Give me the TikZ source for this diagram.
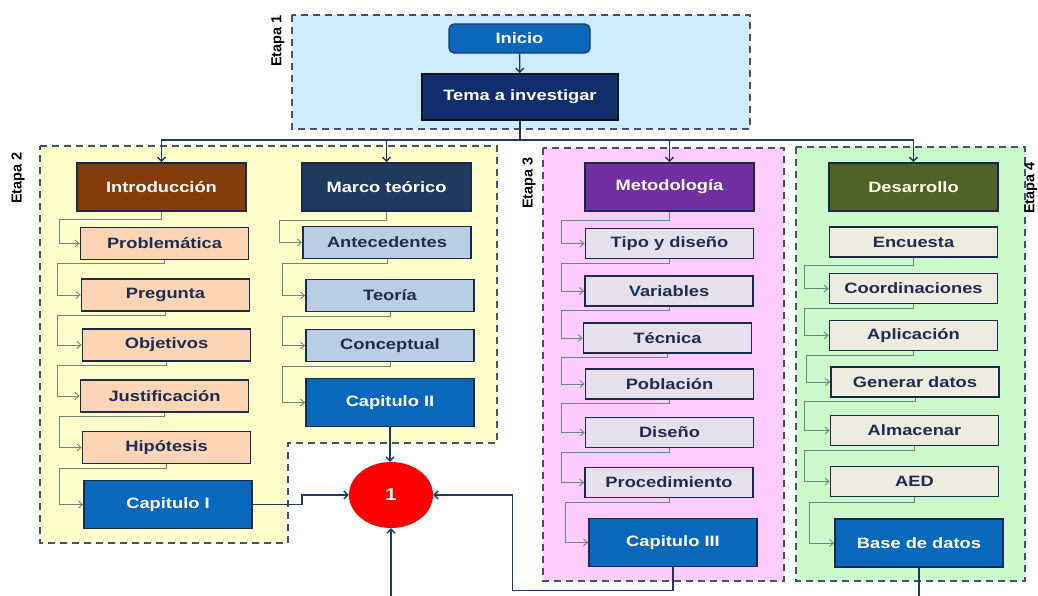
\documentclass[tikz,border=0pt]{standalone}
\usepackage{fontspec}
\setmainfont{Liberation Sans}
\newfontfamily\bx[FakeStretch=1.22]{Liberation Sans}
\usetikzlibrary{arrows.meta,shapes.geometric}
\definecolor{etapaC}{HTML}{44546A}
\definecolor{fillA}{HTML}{CCEBFC}
\definecolor{fillB}{HTML}{FFFFCC}
\definecolor{fillC}{HTML}{FFCCFF}
\definecolor{fillD}{HTML}{CCF9CC}
\definecolor{navy}{HTML}{1F3864}
\definecolor{bord}{HTML}{1C2A45}
\definecolor{subC}{HTML}{6E8680}
\definecolor{capC}{HTML}{0A68BC}
\definecolor{introC}{HTML}{843C0C}
\definecolor{marcoC}{HTML}{203A60}
\definecolor{metoC}{HTML}{7030A0}
\definecolor{desaC}{HTML}{4F6228}
\definecolor{itA}{HTML}{FBD5B5}
\definecolor{itB}{HTML}{B9CDE5}
\definecolor{itC}{HTML}{E6E0EC}
\definecolor{itD}{HTML}{EEECE1}
\definecolor{temaC}{HTML}{0F2E6B}
\definecolor{txtC}{HTML}{1F2D50}
\tikzset{
  etapa/.style={draw=etapaC, line width=1.8pt, dash pattern=on 7pt off 5pt},
  etlabel/.style={rotate=90, font=\fontsize{14.5}{15}\selectfont\bfseries, text=black},
  boxbase/.style={rectangle, draw=bord, line width=1.8pt, inner sep=0pt, font=\bx\fontsize{15}{16}\selectfont\bfseries},
  hdr/.style={boxbase, minimum width=169pt, minimum height=48pt, text=white},
  item/.style={boxbase, minimum width=168pt, minimum height=32pt, text=txtC},
  capbox/.style={boxbase, fill=capC, minimum width=168pt, minimum height=48pt, text=white},
  main/.style={draw=navy, line width=1.4pt},
  arr/.style={-{Straight Barb[length=4pt,width=8pt]}},
  sub/.style={draw=subC, line width=0.9pt, -{Straight Barb[length=4pt,width=7pt]}}
}
\begin{document}
\begin{tikzpicture}[x=1pt,y=-1pt]
\useasboundingbox (0,0) rectangle (1038,596);
% stage areas
\filldraw[etapa, fill=fillA] (292,15) rectangle (750,129);
\filldraw[etapa, fill=fillB] (40,146) -- (497,146) -- (497,443) -- (288,443) -- (288,543) -- (40,543) -- cycle;
\filldraw[etapa, fill=fillC] (543,148) rectangle (784,581);
\filldraw[etapa, fill=fillD] (796,147) rectangle (1025,581);
\node[etlabel] (e1) at (278,41) {Etapa 1};
\node[etlabel] (e2) at (18,178) {Etapa 2};
\node[etlabel] (e3) at (529,183) {Etapa 3};
\node[etlabel] (e4) at (1031,188) {Etapa 4};
% stage 1
\node[boxbase, fill=capC, draw=navy, line width=1.2pt, rounded corners=5pt, minimum width=141pt, minimum height=29pt, text=white] (ini) at (519.5,38.5) {Inicio};
\node[boxbase, fill=temaC, draw=black!70!navy, minimum width=196pt, minimum height=46pt, text=white] (tema) at (520,97) {Tema a investigar};
\draw[main, arr] (ini) -- (tema);
% column 1
\node[hdr, fill=introC] (intro) at (161.5,187) {Introducción};
\node[item, fill=itA] (prob) at (164.5,243.5) {Problemática};
\node[item, fill=itA] (preg) at (165.5,295) {Pregunta};
\node[item, fill=itA] (obj) at (166.5,345) {Objetivos};
\node[item, fill=itA] (just) at (164.5,396) {Justificación};
\node[item, fill=itA] (hip) at (166.5,447.5) {Hipótesis};
\node[capbox] (cap1) at (168,504.5) {Capitulo I};
% column 2
\node[hdr, fill=marcoC] (marco) at (386.5,187) {Marco teórico};
\node[item, fill=itB] (ante) at (387,242.5) {Antecedentes};
\node[item, fill=itB] (teo) at (390,295.5) {Teoría};
\node[item, fill=itB] (conc) at (390,345.5) {Conceptual};
\node[capbox] (cap2) at (390,402.5) {Capitulo II};
% column 3
\node[hdr, fill=metoC] (meto) at (669.5,187) {Metodología};
\node[item, fill=itC, minimum height=30pt] (tipo) at (669.5,243.5) {Tipo y diseño};
\node[item, fill=itC, minimum height=30pt] (var) at (669,291) {Variables};
\node[item, fill=itC, minimum height=30pt] (tec) at (667.5,338) {Técnica};
\node[item, fill=itC, minimum height=30pt] (pob) at (669.5,384) {Población};
\node[item, fill=itC, minimum height=30pt] (dis) at (669.5,432.5) {Diseño};
\node[item, fill=itC, minimum height=30pt] (proc) at (669,482.5) {Procedimiento};
\node[capbox] (cap3) at (673,542.5) {Capitulo III};
% column 4
\node[hdr, fill=desaC, text=white!92!yellow] (desa) at (913.5,187) {Desarrollo};
\node[item, fill=itD, minimum height=30pt] (enc) at (913.5,242) {Encuesta};
\node[item, fill=itD, minimum height=30pt] (coord) at (913.5,288.5) {Coordinaciones};
\node[item, fill=itD, minimum height=30pt] (apl) at (913.5,335.5) {Aplicación};
\node[item, fill=itD, minimum height=30pt] (gen) at (915,382) {Generar datos};
\node[item, fill=itD, minimum height=30pt] (alm) at (914.5,430.5) {Almacenar};
\node[item, fill=itD, minimum height=30pt] (aed) at (914.5,481.5) {AED};
\node[capbox] (base) at (919,543) {Base de datos};
% result node
\node[ellipse, fill=red, inner sep=0pt, minimum width=84pt, minimum height=66pt, text=white, font=\bx\fontsize{17}{18}\selectfont\bfseries] (one) at (391,495) {1};
% bus
\coordinate (bus) at (520,140);
\draw[main] (tema.south) -- (bus);
\draw[main, arr] (bus) -| (intro.north);
\draw[main, arr] (bus) -| (marco.north);
\draw[main, arr] (bus) -| (meto.north);
\draw[main, arr] (bus) -| (desa.north);
% sub connectors column 1
\draw[sub] (intro.south) -- ++(0,8) -| ([xshift=-20pt]prob.west) -- (prob.west);
\draw[sub] (prob.south) -- ++(0,3) -| ([xshift=-23pt]preg.west) -- (preg.west);
\draw[sub] (preg.south) -- ++(0,4) -| ([xshift=-24pt]obj.west) -- (obj.west);
\draw[sub] (obj.south) -- ++(0,4) -| ([xshift=-22pt]just.west) -- (just.west);
\draw[sub] (just.south) -- ++(0,4) -| ([xshift=-22pt]hip.west) -- (hip.west);
\draw[sub] (hip.south) -- ++(0,4) -| ([xshift=-24pt]cap1.west) -- (cap1.west);
% column 2
\draw[sub] (marco.south) -- ++(0,9) -| ([xshift=-23pt]ante.west) -- (ante.west);
\draw[sub] (ante.south) -- ++(0,4) -| ([xshift=-23pt]teo.west) -- (teo.west);
\draw[sub] (teo.south) -- ++(0,4) -| ([xshift=-23pt]conc.west) -- (conc.west);
\draw[sub] (conc.south) -- ++(0,4) -| ([xshift=-23pt]cap2.west) -- (cap2.west);
% column 3
\draw[sub] (meto.south) -- ++(0,9) -| ([xshift=-23pt]tipo.west) -- (tipo.west);
\draw[sub] (tipo.south) -- ++(0,4) -| ([xshift=-23pt]var.west) -- (var.west);
\draw[sub] (var.south) -- ++(0,4) -| ([xshift=-21pt]tec.west) -- (tec.west);
\draw[sub] (tec.south) -- ++(0,4) -| ([xshift=-23pt]pob.west) -- (pob.west);
\draw[sub] (pob.south) -- ++(0,4) -| ([xshift=-23pt]dis.west) -- (dis.west);
\draw[sub] (dis.south) -- ++(0,4) -| ([xshift=-23pt]proc.west) -- (proc.west);
\draw[sub] (proc.south) -- ++(0,4) -| ([xshift=-23pt]cap3.west) -- (cap3.west);
% column 4
\draw[sub] (enc.south) -- ++(0,8) -| ([xshift=-24pt]coord.west) -- (coord.west);
\draw[sub] (coord.south) -- ++(0,4) -| ([xshift=-24pt]apl.west) -- (apl.west);
\draw[sub] (apl.south) -- ++(0,4) -| ([xshift=-24pt]gen.west) -- (gen.west);
\draw[sub] (gen.south) -- ++(0,4) -| ([xshift=-25pt]alm.west) -- (alm.west);
\draw[sub] (alm.south) -- ++(0,4) -| ([xshift=-25pt]aed.west) -- (aed.west);
\draw[sub] (aed.south) -- ++(0,5) -| ([xshift=-25pt]base.west) -- (base.west);
% into result node
\draw[main, arr] (cap2.south) -- (cap2.south |- one.north);
\draw[main, arr] (cap1.east) -- ++(49,0) |- (one.west);
\draw[main, arr] (cap3.south) -- ++(0,23) -| ([xshift=79pt]one.east) -- (one.east);
\coordinate (bin) at (391,600);
\coordinate (bout) at (919,600);
\draw[main, arr] (bin) -- (one.south);
\draw[main] (base.south) -- (bout);
\end{tikzpicture}
\end{document}
